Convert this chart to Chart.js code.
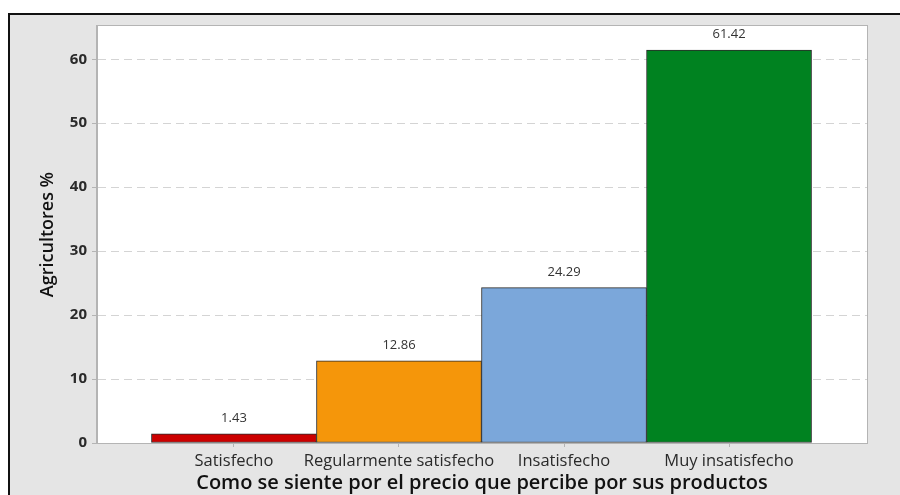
<!DOCTYPE html>
<html>
<head>
<meta charset="utf-8">
<script src="https://cdn.jsdelivr.net/npm/chart.js@4.4.0/dist/chart.umd.min.js"></script>
<style>
html,body{margin:0;padding:0;background:#fff;}
#wrap{width:900px;height:495px;position:relative;}
</style>
</head>
<body>
<div id="wrap"><canvas id="c" width="900" height="495"></canvas></div>
<script>
const categories = ["Satisfecho", "Regularmente satisfecho", "Insatisfecho", "Muy insatisfecho"];
const values = [1.43, 12.86, 24.29, 61.42];
const barColors = ["#cc0000", "#f5960a", "#7ba7da", "#008220"];
const yTicks = [0, 10, 20, 30, 40, 50, 60];
const xTitle = "Como se siente por el precio que percibe por sus productos";
const yTitle = "Agricultores %";

const FONT = "'Open Sans', 'Noto Sans', sans-serif";

const framePlugin = {
  id: 'frame',
  beforeDraw(chart) {
    const ctx = chart.ctx;
    const a = chart.chartArea;
    ctx.save();
    ctx.fillStyle = '#fff';
    ctx.fillRect(0, 0, chart.width, chart.height);
    ctx.fillStyle = '#e5e5e5';
    ctx.fillRect(9, 14, chart.width - 9, chart.height - 14);
    ctx.fillStyle = '#111';
    ctx.fillRect(8, 13, chart.width - 8, 2);
    ctx.fillRect(8, 13, 2, chart.height - 13);
    ctx.fillStyle = '#fff';
    ctx.fillRect(a.left, a.top, a.right - a.left, a.bottom - a.top);
    ctx.restore();
  },
  afterDraw(chart) {
    const ctx = chart.ctx;
    const a = chart.chartArea;
    ctx.save();
    ctx.strokeStyle = '#b4b4b4';
    ctx.lineWidth = 1;
    ctx.setLineDash([]);
    ctx.strokeRect(Math.round(a.left) - 0.5, Math.round(a.top) - 0.5, Math.round(a.right - a.left) + 1, Math.round(a.bottom - a.top) + 1);
    // value labels
    const meta = chart.getDatasetMeta(0);
    ctx.fillStyle = '#333';
    ctx.font = "13px " + FONT;
    ctx.textAlign = 'center';
    ctx.textBaseline = 'alphabetic';
    meta.data.forEach((el, i) => {
      ctx.fillText(values[i].toFixed(2), el.x, el.y - 12);
    });
    ctx.restore();
  }
};

new Chart(document.getElementById('c'), {
  type: 'bar',
  data: {
    datasets: [{
      data: categories.map((c, i) => ({x: i, y: values[i]})),
      backgroundColor: barColors,
      borderColor: '#2a2a2a',
      borderWidth: 1,
      borderSkipped: false,
      barPercentage: 1,
      categoryPercentage: 1
    }]
  },
  options: {
    responsive: false,
    animation: false,
    devicePixelRatio: 1,
    layout: {padding: {top: 26, right: 33, left: 0, bottom: 0}},
    plugins: {legend: {display: false}, tooltip: {enabled: false}},
    scales: {
      x: {
        type: 'linear',
        offset: false,
        min: -0.83,
        max: 3.836,
        afterBuildTicks(scale) { scale.ticks = categories.map((c, i) => ({value: i})); },
        afterFit(scale) { scale.height = 52; },
        ticks: {
          callback: (v) => categories[v],
          font: {family: FONT, size: 16.5},
          color: '#2a2a2a',
          padding: 4,
          maxRotation: 0,
          autoSkip: false
        },
        grid: {offset: false, drawOnChartArea: false, drawTicks: true, tickLength: 4, tickColor: '#b4b4b4'},
        border: {display: true, color: '#b4b4b4'},
        title: {
          display: true,
          text: xTitle,
          font: {family: FONT, size: 20, weight: '600'},
          color: '#111',
          padding: {top: -2, bottom: 0}
        }
      },
      y: {
        min: 0,
        max: 65.2,
        afterBuildTicks(scale) { scale.ticks = yTicks.map(v => ({value: v})); },
        afterFit(scale) { scale.width = 97; },
        ticks: {
          font: {family: FONT, size: 15, weight: 'bold'},
          color: '#2a2a2a',
          padding: 5
        },
        grid: {
          color: '#d4d4d4',
          tickLength: 5,
          tickColor: '#b4b4b4',
          tickBorderDash: [],
          tickBorderDashOffset: 0
        },
        border: {display: true, color: '#b4b4b4', dash: [8, 5]},
        title: {
          display: true,
          text: yTitle,
          font: {family: FONT, size: 18, weight: '600'},
          color: '#111',
          padding: {top: 37, bottom: 0}
        }
      }
    }
  },
  plugins: [framePlugin]
});
</script>
</body>
</html>
